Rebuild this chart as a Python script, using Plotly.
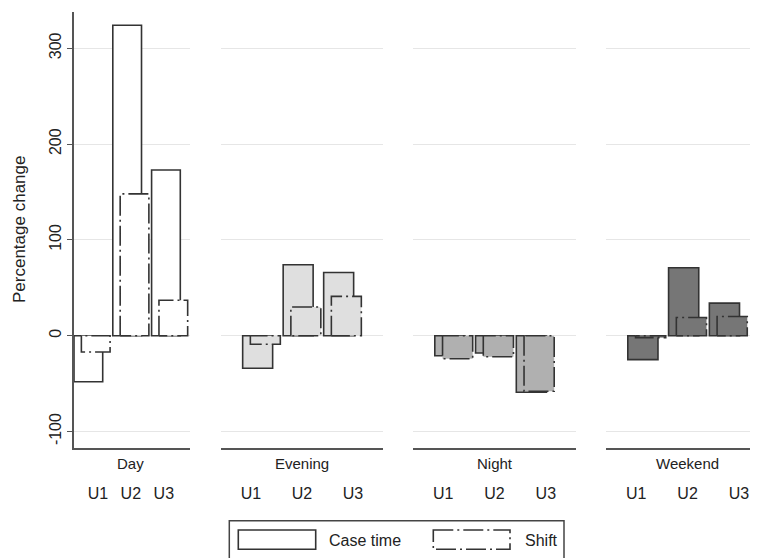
import plotly.graph_objects as go

# ---------------- data ----------------
panels = ["Day", "Evening", "Night", "Weekend"]
units = ["U1", "U2", "U3"]
case_day = [-48, 324, 173]
case_evening = [-34, 74, 66]
case_night = [-21, -18, -59]
case_weekend = [-25, 71, 34]
shift_day = [-17, 148, 37]
shift_evening = [-9, 30, 41]
shift_night = [-24, -22, -58]
shift_weekend = [-2, 19, 20]
y_ticks = [-100, 0, 100, 200, 300]
y_tick_labels = ["-100", "0", "100", "200", "300"]

case_vals = [case_day, case_evening, case_night, case_weekend]
shift_vals = [shift_day, shift_evening, shift_night, shift_weekend]

# ---------------- style ----------------
OFF = 8                      # browser body margin
W, H = 758 - OFF, 558 - OFF
PLOT_L, PLOT_R, PLOT_T, PLOT_B = 74, 758, 12, 448   # in reference pixel coords
ML, MR = PLOT_L - OFF, 758 - PLOT_R
MT, MB = PLOT_T - OFF, H - (PLOT_B - OFF)
PW, PH = PLOT_R - PLOT_L, PLOT_B - PLOT_T
FONT = "Liberation Sans, Arial, sans-serif"
TXT = "#222222"
EDGE = "#333333"
AXIS = "#555555"
GRID = "#e6e6e6"
fills = ["#ffffff", "#dfdfdf", "#b0b0b0", "#767676"]
DASH = "20px,4px,2px,4px"

BW = 0.74            # bar width (category units)
CASE_OFF = -0.465    # case bar left offset
SHIFT_OFF = -0.275   # shift bar left offset


def px2paper_x(px):
    return (px - PLOT_L) / PW


def px2paper_y(py):
    return (PLOT_B - py) / PH


# panel pixel extents (reference coords) and x ranges
panel_px = [(74, 190), (221, 383), (413, 576), (606, 758)]
x_ranges = [[-0.465, 2.525], [-1.0, 3.0], [-1.0, 3.0], [-1.0, 3.0 - 11 / 40.5]]
tick_pos = [[0.15, 1.0, 1.85], [-0.26, 1.0, 2.26], [-0.26, 1.0, 2.26], [-0.26, 1.0, 2.26]]

y_top = (335.7 - PLOT_T) / 95.8 * 100
y_bot = -(PLOT_B - 335.7) / 95.8 * 100

fig = go.Figure()

for p in range(4):
    ax = "" if p == 0 else str(p + 1)
    xs = list(range(len(units)))
    fig.add_trace(go.Bar(
        x=xs, y=case_vals[p], width=BW, offset=CASE_OFF,
        marker=dict(color=fills[p], line=dict(color=EDGE, width=1.6)),
        xaxis="x" + ax, yaxis="y" + ax, showlegend=False, name="Case time",
    ))
    fig.add_trace(go.Bar(
        x=xs, y=shift_vals[p], width=BW, offset=SHIFT_OFF,
        marker=dict(color=fills[p], line=dict(color=fills[p], width=0)),
        xaxis="x" + ax, yaxis="y" + ax, showlegend=False, name="Shift",
    ))
    ox, oy = [], []
    for i, v in zip(xs, shift_vals[p]):
        l, r = i + SHIFT_OFF, i + SHIFT_OFF + BW
        ox += [l, l, r, r, l, None]
        oy += [0, v, v, 0, 0, None]
    fig.add_trace(go.Scatter(
        x=ox, y=oy, mode="lines",
        line=dict(color=EDGE, width=1.6, dash=DASH),
        xaxis="x" + ax, yaxis="y" + ax, showlegend=False, hoverinfo="skip",
    ))

layout = dict(
    width=W, height=H,
    margin=dict(l=ML, r=MR, t=MT, b=MB, pad=0),
    paper_bgcolor="white", plot_bgcolor="white",
    font=dict(family=FONT, size=15, color=TXT),
    barmode="overlay", showlegend=False,
)

for p in range(4):
    ax = "" if p == 0 else str(p + 1)
    x0, x1 = panel_px[p]
    layout["xaxis" + ax] = dict(
        domain=[px2paper_x(x0), min(1.0, px2paper_x(x1))],
        range=x_ranges[p], anchor="y" + ax,
        tickvals=tick_pos[p], ticktext=units, ticks="",
        ticklabelstandoff=30,
        showgrid=False, zeroline=False,
        showline=True, linecolor=AXIS, linewidth=1.5,
        tickfont=dict(size=16, color=TXT), fixedrange=True,
    )
    yax = dict(
        domain=[0, 1], range=[y_bot, y_top], anchor="x" + ax,
        tickvals=y_ticks, ticktext=y_tick_labels,
        showgrid=True, gridcolor=GRID, gridwidth=1,
        zeroline=False, fixedrange=True,
    )
    if p == 0:
        yax.update(
            showline=True, linecolor=AXIS, linewidth=1.5,
            ticks="outside", ticklen=5, tickcolor=AXIS, tickwidth=1.2,
            tickangle=-90, tickfont=dict(size=16, color=TXT),
        )
    else:
        yax.update(matches="y", showticklabels=False, showline=False, ticks="")
    layout["yaxis" + ax] = yax

fig.update_layout(**layout)

# y-axis title
fig.add_annotation(
    text="Percentage change", textangle=-90,
    x=px2paper_x(19), xref="paper", y=0.5, yref="paper",
    showarrow=False, xanchor="center", yanchor="middle",
    font=dict(size=17, color=TXT),
)

# panel titles
for p, name in enumerate(panels):
    ax = "" if p == 0 else str(p + 1)
    fig.add_annotation(
        text=name, x=1.0, xref="x" + ax, y=px2paper_y(463), yref="paper",
        showarrow=False, xanchor="center", yanchor="middle",
        font=dict(size=15, color=TXT),
    )

# legend box (drawn manually to match the wide swatches)
fig.add_shape(type="rect", xref="paper", yref="paper",
              x0=px2paper_x(229.3), x1=px2paper_x(564), y0=px2paper_y(520.7), y1=px2paper_y(575),
              line=dict(color="#444444", width=1.5), fillcolor="white", layer="above")
fig.add_shape(type="rect", xref="paper", yref="paper",
              x0=px2paper_x(238.3), x1=px2paper_x(315.7), y0=px2paper_y(530), y1=px2paper_y(549.3),
              line=dict(color=EDGE, width=1.6), fillcolor="white", layer="above")
fig.add_shape(type="rect", xref="paper", yref="paper",
              x0=px2paper_x(433.3), x1=px2paper_x(510), y0=px2paper_y(530), y1=px2paper_y(549.3),
              line=dict(color=EDGE, width=1.6, dash=DASH), fillcolor="white", layer="above")
fig.add_annotation(text="Case time", x=px2paper_x(326.7), xref="paper", y=px2paper_y(540), yref="paper",
                   showarrow=False, xanchor="left", yanchor="middle", font=dict(size=16, color=TXT))
fig.add_annotation(text="Shift", x=px2paper_x(522.7), xref="paper", y=px2paper_y(540), yref="paper",
                   showarrow=False, xanchor="left", yanchor="middle", font=dict(size=16, color=TXT))

fig.write_html("out.html")
